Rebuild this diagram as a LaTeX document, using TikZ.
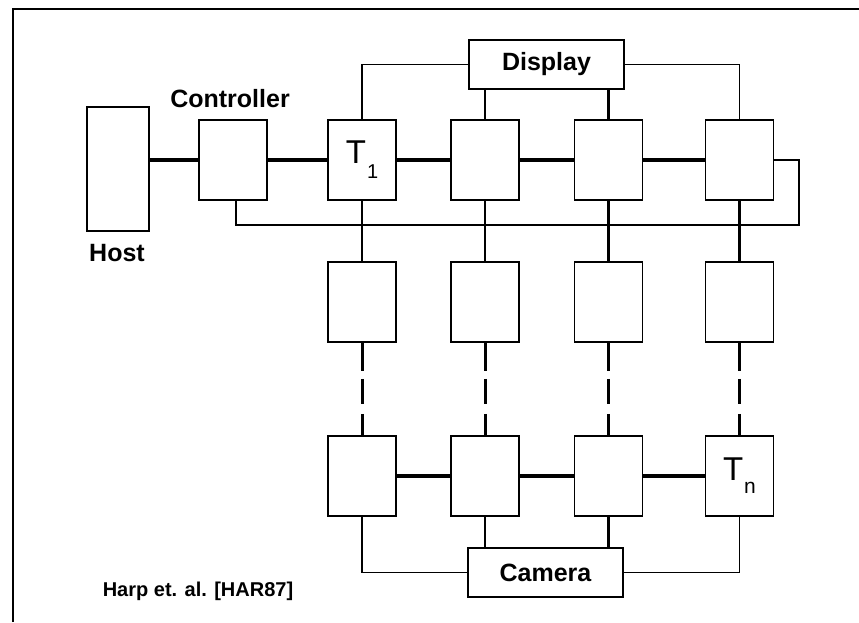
\documentclass[tikz,border=0pt]{standalone}
\usepackage{fontspec}
\setmainfont{Liberation Sans}
\begin{document}
\begin{tikzpicture}[x=1pt,y=-1pt,
  box/.style={draw,line width=1.7pt,minimum width=68pt,minimum height=80pt,inner sep=0pt},
  wide/.style={draw,line width=1.7pt,minimum width=155pt,minimum height=49pt,inner sep=0pt,font=\bfseries\fontsize{25}{28}\selectfont},
  lbl/.style={font=\bfseries\fontsize{25}{28}\selectfont,inner sep=0pt},
  tlbl/.style={font=\fontsize{33}{36}\selectfont},
  link/.style={line width=3.4pt},
  vlink/.style={line width=2.8pt},
  dlink/.style={line width=3pt,dash pattern=on 28pt off 8pt on 25pt off 10pt on 40pt},
  thinlink/.style={line width=1.6pt}]
\useasboundingbox (0,0) rectangle (859,622);
\fill[white] (0,0) rectangle (859,622);
\draw[line width=2.4pt] (13,622) -- (13,9) -- (859,9);

% nodes
\node[box,minimum width=62pt,minimum height=124pt] (host) at (118,169) {};
\node[lbl] (hostl) at (117,253) {Host};
\node[box] (ctrl) at (233,160) {};
\node[lbl] (ctrll) at (230,99) {Controller};

\node[box,tlbl] (a1) at (362,160) {T\kern1pt\raisebox{-15pt}{\fontsize{20}{22}\selectfont 1}};
\node[box] (a2) at (485,160) {};
\node[box] (a3) at (608.5,160) {};
\node[box] (a4) at (739.5,160) {};

\node[box] (b1) at (362,302) {};
\node[box] (b2) at (485,302) {};
\node[box] (b3) at (608.5,302) {};
\node[box] (b4) at (739.5,302) {};

\node[box] (c1) at (362,476) {};
\node[box] (c2) at (485,476) {};
\node[box] (c3) at (608.5,476) {};
\node[box,tlbl] (c4) at (739.5,476) {T\kern1pt\raisebox{-13pt}{\fontsize{21}{22}\selectfont n}};

\node[wide] (disp) at (546.5,64.5) {Display};
\node[wide] (cam) at (545.5,572.5) {Camera};

\node[font=\bfseries\fontsize{20}{22}\selectfont] (cite) at (198,591) {Harp et. al. [HAR87]};

% horizontal links
\draw[link] (ctrl.west -| host.east) -- (ctrl.west);
\draw[link] (ctrl) -- (a1);
\draw[link] (a1) -- (a2);
\draw[link] (a2) -- (a3);
\draw[link] (a3) -- (a4);
\draw[link] (c1) -- (c2);
\draw[link] (c2) -- (c3);
\draw[link] (c3) -- (c4);

% bus loop
\coordinate (busR) at (799,225);
\draw[thinlink] (a4.east) -| (busR) -| ([xshift=3pt]ctrl.south);

% vertical links
\foreach \i in {1,2,3,4}{
  \draw[vlink] (a\i) -- (b\i);
  \draw[dlink] (b\i.south) -- (c\i.north);
}

% display links
\draw[thinlink] (disp.west) -| (a1.north);
\draw[thinlink] (disp.east) -| (a4.north);
\draw[vlink,line width=2.4pt] (a2.north |- disp.south) -- (a2.north);
\draw[vlink,line width=2.4pt] (a3.north |- disp.south) -- (a3.north);

% camera links
\draw[thinlink] (cam.west) -| (c1.south);
\draw[thinlink] (cam.east) -| (c4.south);
\draw[vlink,line width=2.4pt] (c2.south) -- (c2.south |- cam.north);
\draw[vlink,line width=2.4pt] (c3.south) -- (c3.south |- cam.north);
\end{tikzpicture}
\end{document}
